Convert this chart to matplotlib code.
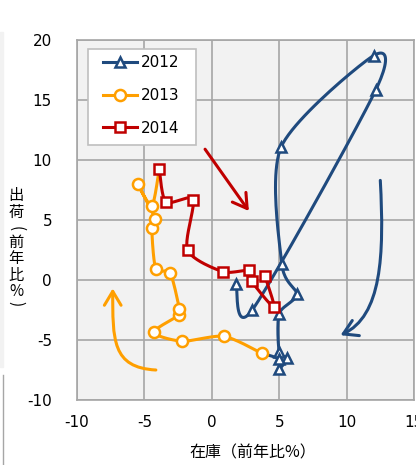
import matplotlib.pyplot as plt
import numpy as np
from matplotlib.lines import Line2D
from matplotlib.patches import FancyArrowPatch, Rectangle
from matplotlib.path import Path

plt.rcParams['font.family'] = ['DejaVu Sans', 'Noto Sans CJK JP']
plt.rcParams['axes.unicode_minus'] = False

# 在庫・出荷の前年比（月次）
years = ['2012', '2013', '2014']
inv_2012 = [1.8, 3.0, 12.15, 12.0, 5.15, 5.2, 6.3, 5.0, 5.0, 5.6, 5.0, 5.0]
shp_2012 = [-0.3, -2.5, 15.8, 18.7, 11.1, 1.3, -1.2, -2.8, -6.0, -6.5, -7.4, -6.6]
inv_2013 = [3.7, 0.9, -2.2, -4.3, -2.4, -2.4, -3.1, -4.15, -4.45, -4.2, -5.5, -4.45]
shp_2013 = [-6.1, -4.7, -5.1, -4.35, -2.9, -2.4, 0.6, 0.9, 4.3, 5.1, 8.0, 6.2]
inv_2014 = [-3.9, -3.4, -1.4, -1.8, 0.8, 2.75, 2.95, 4.6, 3.95]
shp_2014 = [9.25, 6.5, 6.7, 2.5, 0.7, 0.8, -0.1, -2.25, 0.3]

colors = ['#1f4a7e', '#ff9f00', '#c00000']
markers = ['^', 'o', 's']

xticks = [-10, -5, 0, 5, 10, 15]
yticks = [-10, -5, 0, 5, 10, 15, 20]


def smooth(x, y, n=24, k=6.0):
    # Catmull-Rom風の平滑化（Excelの「スムージング」に近い）
    p = np.column_stack([x, y]).astype(float)
    if len(p) < 3:
        return p[:, 0], p[:, 1]
    ext = np.vstack([p[0], p, p[-1]])
    out = []
    t = np.linspace(0, 1, n)[:, None]
    for i in range(1, len(ext) - 2):
        p0, p1, p2, p3 = ext[i - 1], ext[i], ext[i + 1], ext[i + 2]
        c1 = p1 + (p2 - p0) / k
        c2 = p2 - (p3 - p1) / k
        seg = ((1 - t) ** 3 * p1 + 3 * (1 - t) ** 2 * t * c1
               + 3 * (1 - t) * t ** 2 * c2 + t ** 3 * p2)
        out.append(seg if i == 1 else seg[1:])
    out = np.vstack(out)
    return out[:, 0], out[:, 1]


fig = plt.figure(figsize=(4.16, 4.65), dpi=100)
ax = fig.add_axes([77 / 416, 65 / 465, 337 / 416, 360 / 465])
ax.set_facecolor('#f2f2f2')

series = [(inv_2012, shp_2012), (inv_2013, shp_2013), (inv_2014, shp_2014)]
handles = []
for i, (xs, ys) in enumerate(series):
    lx, ly = list(xs), list(ys)
    # 翌年1月まで線をつなぐ
    if i + 1 < len(series):
        lx.append(series[i + 1][0][0])
        ly.append(series[i + 1][1][0])
    sx, sy = smooth(lx, ly, k=7.5)
    ax.plot(sx, sy, color=colors[i], lw=2.2, solid_capstyle='round',
            zorder=3 + 2 * i)
    ms = 8 if i == 1 else 7.5
    ax.plot(xs, ys, linestyle='none', marker=markers[i], ms=ms,
            mfc='white', mec=colors[i], mew=1.8, zorder=4 + 2 * i)
    handles.append(Line2D([], [], color=colors[i], lw=2.2, marker=markers[i],
                          ms=ms, mfc='white', mec=colors[i], mew=1.8))

# 矢印（動きの方向）
arrow_kw = dict(arrowstyle='->,head_length=0.5,head_width=0.3',
                mutation_scale=20, lw=2.2, zorder=2)
ax.add_patch(FancyArrowPatch((-0.5, 10.9), (2.75, 5.75), color='#c00000',
                             shrinkA=0, shrinkB=0, **arrow_kw))
blue_path = Path([(12.5, 8.3), (12.8, 2.0), (12.6, -3.0), (9.55, -4.6)],
                 [Path.MOVETO, Path.CURVE4, Path.CURVE4, Path.CURVE4])
ax.add_patch(FancyArrowPatch(path=blue_path, color='#1f4a7e', **arrow_kw))
orange_path = Path([(-4.15, -7.5), (-7.4, -7.3), (-7.35, -5.0), (-7.35, -0.7)],
                   [Path.MOVETO, Path.CURVE4, Path.CURVE4, Path.CURVE4])
ax.add_patch(FancyArrowPatch(path=orange_path, color='#ff9f00', **arrow_kw))

ax.set_xlim(-10, 15)
ax.set_ylim(-10, 20)
ax.set_xticks(xticks)
ax.set_yticks(yticks)
ax.grid(True, color='#a6a6a6', lw=1.2)
ax.set_axisbelow(True)
for s in ax.spines.values():
    s.set_color('#a6a6a6')
    s.set_linewidth(1.2)
ax.tick_params(length=0, labelsize=11, colors='black')
ax.tick_params(axis='y', pad=18)
ax.tick_params(axis='x', pad=11)

# 凡例（枠は別に描く）
ax.add_patch(Rectangle((11 / 337, 1 - 105 / 360), 108 / 337, 96 / 360,
                       transform=ax.transAxes, facecolor='white',
                       edgecolor='#bfbfbf', lw=1.2, zorder=9))
leg = ax.legend(handles, years, loc='upper left',
                bbox_to_anchor=(26 / 337, 1 - 15 / 360), fontsize=11,
                frameon=False, handlelength=2.25, handletextpad=0.2,
                labelspacing=1.17, borderpad=0, borderaxespad=0)
leg.set_zorder(10)

# 軸ラベル（縦書き）
ylab = ['出', '荷', '(', '前', '年', '比', '%', ')']
ylab_pos = [195, 212, 229, 242, 258, 275, 291, 304]
for ch, py in zip(ylab, ylab_pos):
    rot = -90 if ch in '()' else 0
    fig.text(16 / 416, 1 - py / 465, ch, ha='center', va='center', fontsize=11,
             rotation=rot, family=['Noto Sans CJK JP', 'DejaVu Sans'])
fig.text(253 / 416, 1 - 453 / 465, '在庫（前年比%）', ha='center', va='center',
         fontsize=11.5, family=['Noto Sans CJK JP', 'DejaVu Sans'])

# 左端の隣接パネルの縁
fig.patches.append(Rectangle((0, 1 - 367 / 465), 3 / 416, 335 / 465,
                             transform=fig.transFigure, color='#f2f2f2',
                             zorder=0))
fig.lines.append(Line2D([3 / 416, 3 / 416], [0, 1 - 375 / 465],
                        transform=fig.transFigure, color='#a6a6a6', lw=1))

fig.savefig('out.png', dpi=100)
